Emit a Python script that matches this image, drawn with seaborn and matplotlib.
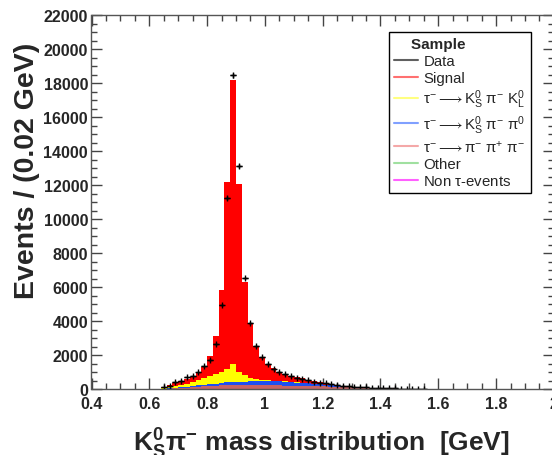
import numpy as np
import pandas as pd
import matplotlib
matplotlib.use("Agg")
import matplotlib.pyplot as plt
import seaborn as sns
from matplotlib.lines import Line2D
from matplotlib.ticker import FixedLocator, FixedFormatter, MultipleLocator

# ---------------- data (events per 0.02 GeV bin, bins from 0.64 GeV) ----------------
bin_low = 0.64
bin_width = 0.02

signal = [63, 147, 184, 218, 246, 293, 416, 649, 1161, 2204,
          4787, 10956, 16684, 11069, 5460, 3220, 1950, 1347, 978, 753,
          543, 424, 332, 291, 271, 190, 143, 116, 88, 75,
          57, 38, 35, 28, 24, 21, 15, 13, 13, 12,
          8, 6, 3, 2, 3, 2]
ks_pi_kl = [30, 50, 80, 120, 170, 230, 330, 420, 500, 570,
            650, 800, 1050, 550, 380, 200, 110, 70, 50, 40,
            32, 26, 20, 16, 12, 10, 8, 6, 5, 4,
            3, 3, 2, 2, 1, 1, 1, 1, 0, 0,
            0, 0, 0, 0, 0, 0]
ks_pi_pi0 = [15, 25, 35, 45, 55, 65, 80, 95, 110, 130,
             150, 170, 185, 195, 205, 215, 225, 235, 240, 240,
             235, 225, 210, 190, 170, 150, 125, 105, 85, 70,
             55, 45, 35, 28, 22, 18, 14, 10, 8, 6,
             5, 4, 3, 2, 1, 1]
pi_pi_pi = [10, 25, 45, 60, 80, 100, 120, 140, 160, 175,
            190, 200, 205, 210, 210, 210, 210, 205, 200, 195,
            190, 185, 180, 175, 170, 165, 160, 150, 140, 130,
            115, 100, 90, 75, 62, 50, 40, 32, 26, 20,
            15, 11, 8, 5, 4, 2]
other = [2, 3, 5, 6, 8, 10, 12, 14, 16, 18,
         20, 20, 22, 22, 22, 22, 22, 20, 20, 20,
         18, 18, 16, 16, 15, 14, 13, 12, 11, 10,
         9, 8, 7, 6, 5, 4, 4, 3, 3, 2,
         2, 1, 1, 1, 0, 0]
non_tau = [0, 0, 1, 1, 1, 2, 2, 2, 3, 3,
           3, 4, 4, 4, 3, 3, 3, 3, 2, 2,
           2, 2, 2, 2, 2, 1, 1, 1, 1, 1,
           1, 1, 1, 1, 1, 1, 1, 1, 0, 0,
           0, 0, 0, 0, 0, 0]
data = [100, 200, 390, 490, 690, 780, 980, 1330, 1710, 2650,
        4940, 11240, 18450, 13120, 6530, 3880, 2510, 1860, 1470, 1180,
        1000, 860, 740, 650, 600, 510, 440, 380, 330, 285,
        240, 200, 165, 140, 115, 90, 75, 60, 48, 38,
        30, 22, 16, 11, 8, 5]

x_tick_values = [0.4, 0.6, 0.8, 1.0, 1.2, 1.4, 1.6, 1.8, 2.0]
x_tick_labels = ["0.4", "0.6", "0.8", "1", "1.2", "1.4", "1.6", "1.8", "2"]
y_tick_values = [0, 2000, 4000, 6000, 8000, 10000, 12000, 14000, 16000, 18000, 20000, 22000]

components = {
    "Signal": signal,
    "NonTau": non_tau,
    "KsPiKl": ks_pi_kl,
    "KsPiPi0": ks_pi_pi0,
    "PiPiPi": pi_pi_pi,
    "Other": other,
}
fill_colors = {
    "Signal": "#ff0000",
    "NonTau": "#ff00ff",
    "KsPiKl": "#ffff00",
    "KsPiPi0": "#1e50f0",
    "PiPiPi": "#c86464",
    "Other": "#1ea01e",
}

n_bins = len(signal)
centers = bin_low + bin_width * (np.arange(n_bins) + 0.5)
bin_high = bin_low + bin_width * n_bins

rows = []
for name, vals in components.items():
    for c, v in zip(centers, vals):
        rows.append({"mass": c, "events": v, "sample": name})
df = pd.DataFrame(rows)

# ---------------- style ----------------
sns.set_style("ticks")
plt.rcParams["font.family"] = ["Liberation Sans", "DejaVu Sans"]
plt.rcParams["mathtext.fontset"] = "custom"
plt.rcParams["mathtext.rm"] = "Liberation Sans"
plt.rcParams["mathtext.it"] = "Liberation Sans:italic"
plt.rcParams["mathtext.bf"] = "Liberation Sans:bold"
plt.rcParams["mathtext.default"] = "regular"
plt.rcParams["mathtext.fallback"] = "stixsans"

fig = plt.figure(figsize=(5.52, 4.56), dpi=100)
ax = fig.add_axes([91.5 / 552, 66 / 456, 462.4 / 552, 374 / 456])

sns.histplot(data=df, x="mass", weights="events", hue="sample",
             hue_order=list(components.keys()), palette=fill_colors,
             multiple="stack", binwidth=bin_width, binrange=(bin_low, bin_high),
             element="step", fill=True,
             alpha=1.0, linewidth=0, legend=False, ax=ax)

ax.errorbar(centers, data, xerr=bin_width / 2, yerr=np.sqrt(data),
            fmt="+", color="black", ms=5, mew=1, elinewidth=1, capsize=0, zorder=6)

ax.set_xlim(0.4, 2.0)
ax.set_ylim(0, 22000)
ax.xaxis.set_major_locator(FixedLocator(x_tick_values))
ax.xaxis.set_major_formatter(FixedFormatter(x_tick_labels))
ax.xaxis.set_minor_locator(MultipleLocator(0.05))
ax.yaxis.set_major_locator(FixedLocator(y_tick_values))
ax.yaxis.set_minor_locator(MultipleLocator(500))

ax.tick_params(axis="both", which="both", direction="in", top=True, right=True,
               color="#444444", zorder=10)
ax.tick_params(axis="both", which="major", length=8, width=1)
ax.tick_params(axis="both", which="minor", length=4, width=1)
ax.tick_params(axis="x", which="major", pad=5, labelsize=11.5)
ax.tick_params(axis="y", which="major", pad=2.5, labelsize=11.5)
for lab in ax.get_xticklabels() + ax.get_yticklabels():
    lab.set_fontweight("bold")
for sp in ax.spines.values():
    sp.set_color("#555555")
    sp.set_linewidth(1)
    sp.set_zorder(10)

ax.set_ylabel("Events / (0.02 GeV)", fontsize=20.5, fontweight="bold")
ax.yaxis.set_label_coords(-0.112, 0.585)
ax.set_xlabel(r"$\mathbf{K^{0}_{S}}\pi^{\mathbf{-}}$ mass distribution  [GeV]",
              fontsize=19, fontweight="bold")
ax.xaxis.set_label_coords(0.497, -0.098)

legend_labels = ["Data", "Signal",
                 r"$\tau^{-}\longrightarrow K^{0}_{S}\ \pi^{-}\ K^{0}_{L}$",
                 r"$\tau^{-}\longrightarrow K^{0}_{S}\ \pi^{-}\ \pi^{0}$",
                 r"$\tau^{-}\longrightarrow \pi^{-}\ \pi^{+}\ \pi^{-}$",
                 "Other",
                 r"Non $\tau$-events"]
legend_colors = ["#606060", "#ff7070", "#ffff80", "#80a0ff", "#f4a8a8", "#a0e0a0", "#ff60ff"]
handles = [Line2D([], [], color=c, lw=1.5) for c in legend_colors]
leg = ax.legend(handles, legend_labels, title="    Sample", loc="upper left",
                bbox_to_anchor=(0.643, 0.955), frameon=True, fancybox=False,
                edgecolor="black", framealpha=1, fontsize=10.8,
                title_fontproperties={"weight": "bold", "size": 11},
                handlelength=1.6, handletextpad=0.35, labelspacing=0.19,
                borderpad=0.35, alignment="left", borderaxespad=0)
leg.get_frame().set_linewidth(1.0)
leg.set_zorder(20)

fig.savefig("out.png", dpi=100)
